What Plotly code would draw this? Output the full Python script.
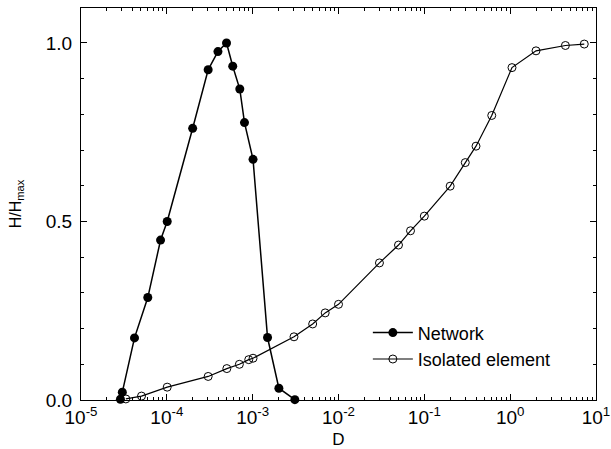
import plotly.graph_objects as go

# Network series
net_D = [2.88e-5, 3.03e-5, 4.2e-5, 6.0e-5, 8.45e-5, 1.01e-4, 2.0e-4, 3.03e-4, 3.94e-4,
         4.96e-4, 5.86e-4, 7.08e-4, 8.03e-4, 1.01e-3, 1.49e-3, 2.02e-3, 3.1e-3]
net_H = [0.002, 0.022, 0.174, 0.287, 0.448, 0.500, 0.761, 0.925, 0.976,
         1.000, 0.935, 0.871, 0.777, 0.674, 0.175, 0.033, 0.001]

# Isolated element series
iso_D = [3.33e-5, 5.07e-5, 1.01e-4, 3.03e-4, 5.0e-4, 7.0e-4, 9.0e-4, 1.01e-3,
         3.03e-3, 5.0e-3, 7.0e-3, 1.0e-2, 3.0e-2, 5.0e-2, 6.9e-2, 0.1, 0.2, 0.3,
         0.4, 0.61, 1.05, 2.0, 4.4, 7.3]
iso_H = [0.003, 0.011, 0.036, 0.066, 0.088, 0.100, 0.113, 0.117,
         0.177, 0.213, 0.244, 0.268, 0.384, 0.434, 0.474, 0.515, 0.599, 0.665,
         0.711, 0.797, 0.931, 0.978, 0.993, 0.997]

x_tickvals = [1e-5, 1e-4, 1e-3, 1e-2, 1e-1, 1e0, 1e1]
x_ticktext = ["10<sup>-5</sup>", "10<sup>-4</sup>", "10<sup>-3</sup>", "10<sup>-2</sup>",
              "10<sup>-1</sup>", "10<sup>0</sup>", "10<sup>1</sup>"]
y_tickvals = [0.0, 0.5, 1.0]
y_ticktext = ["0.0", "0.5", "1.0"]

FONT = "Liberation Sans, Arial, sans-serif"

fig = go.Figure()
fig.add_trace(go.Scatter(
    x=net_D, y=net_H, mode="lines+markers", name="Network",
    line=dict(color="black", width=1.5),
    marker=dict(symbol="circle", size=9, color="black"),
    cliponaxis=False,
))
fig.add_trace(go.Scatter(
    x=iso_D, y=iso_H, mode="lines+markers", name="Isolated element",
    line=dict(color="black", width=1.2),
    marker=dict(symbol="circle-open", size=8, color="black", line=dict(width=1)),
    cliponaxis=False,
))

axis_common = dict(
    showline=True, linecolor="black", linewidth=1, mirror="allticks",
    ticks="inside", tickcolor="black", showgrid=False, zeroline=False,
    automargin=False,
    tickfont=dict(family=FONT, size=19, color="black"),
)

fig.update_layout(
    width=611, height=449,
    margin=dict(l=81, r=15, t=8, b=49),
    paper_bgcolor="white", plot_bgcolor="white",
    font=dict(family=FONT, color="black"),
    showlegend=True,
    legend=dict(
        x=0.557, y=0.138, xanchor="left", yanchor="middle",
        bgcolor="rgba(0,0,0,0)", font=dict(family=FONT, size=18, color="black"),
        itemwidth=40, tracegroupgap=0,
    ),
    xaxis=dict(
        type="log", range=[-5, 1],
        tickvals=x_tickvals, ticktext=x_ticktext, ticklen=6,
        minor=dict(ticks="inside", ticklen=3, tickcolor="black", dtick="D1", showgrid=False),
        title=dict(text="D", font=dict(family=FONT, size=17, color="black"), standoff=10),
        **axis_common,
    ),
    yaxis=dict(
        range=[0, 1.098],
        tickvals=y_tickvals, ticktext=y_ticktext, ticklen=6, ticklabelstandoff=4,
        minor=dict(ticks="inside", ticklen=3, tickcolor="black", dtick=0.1, showgrid=False),
        title=dict(text="H/H<sub>max</sub>", font=dict(family=FONT, size=16, color="black"), standoff=20),
        **axis_common,
    ),
)

fig.write_html(
    "out.html",
    config={"displayModeBar": False},
    post_script="document.body.style.margin='0';document.body.style.padding='0';document.body.style.overflow='hidden';",
)
